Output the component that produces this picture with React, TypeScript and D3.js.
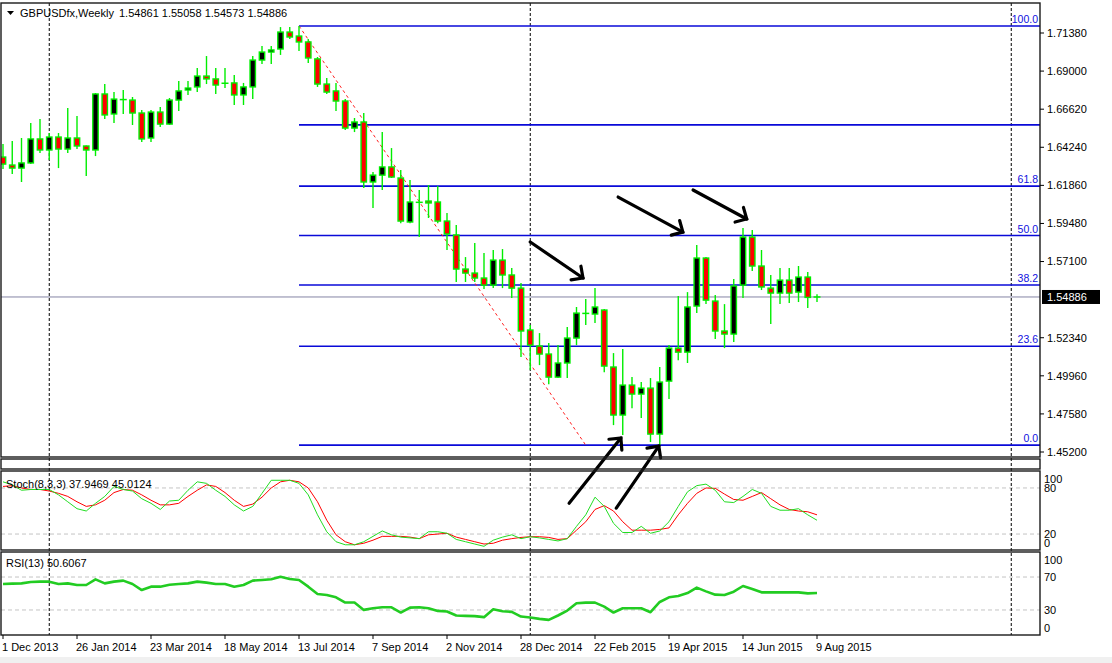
import React from "react";
import * as d3 from "d3";

// GBPUSDfx weekly, 1 Dec 2013 .. 9 Aug 2015
const START_DATE = new Date(2013, 11, 1);

const OPEN = [
  1.6363, 1.6313, 1.6294, 1.6326, 1.6476, 1.6407, 1.6488, 1.6413, 1.6482, 1.6432,
  1.6407, 1.6757, 1.6632, 1.6726, 1.6719, 1.6638, 1.6482, 1.6644, 1.6569, 1.6719,
  1.6782, 1.6801, 1.6869, 1.6851, 1.6826, 1.6826, 1.6751, 1.6801, 1.6969, 1.7019,
  1.7038, 1.7144, 1.7119, 1.7082, 1.6976, 1.6819, 1.6776, 1.6713, 1.6544, 1.6582,
  1.6207, 1.625, 1.6301, 1.6232, 1.5957, 1.6082, 1.6088, 1.6082, 1.5963, 1.5876,
  1.5663, 1.5638, 1.5607, 1.5563, 1.5719, 1.5626, 1.5544, 1.5282, 1.5182, 1.5132,
  1.4988, 1.5076, 1.5232, 1.5388, 1.5382, 1.5407, 1.5051, 1.4751, 1.4938, 1.4882,
  1.4919, 1.4632, 1.4963, 1.5169, 1.5144, 1.5432, 1.5732, 1.5463, 1.5276, 1.5257,
  1.5563, 1.5863, 1.5682, 1.5544, 1.5513, 1.5594, 1.5519, 1.5613, 1.54861,
];
const HIGH = [
  1.6444, 1.6463, 1.6482, 1.6576, 1.6601, 1.6513, 1.6513, 1.6669, 1.6619, 1.6435,
  1.6763, 1.6819, 1.6769, 1.6782, 1.6738, 1.6657, 1.6657, 1.6675, 1.6732, 1.6838,
  1.6838, 1.6919, 1.6994, 1.6919, 1.6919, 1.6876, 1.6826, 1.6994, 1.7057, 1.7057,
  1.7175, 1.7175, 1.7182, 1.7101, 1.6988, 1.6857, 1.6826, 1.6726, 1.6607, 1.6638,
  1.6269, 1.6519, 1.6419, 1.6282, 1.6219, 1.6157, 1.6188, 1.6182, 1.6013, 1.5938,
  1.5738, 1.5826, 1.5763, 1.5782, 1.5788, 1.5669, 1.5576, 1.5313, 1.5263, 1.5201,
  1.5188, 1.5301, 1.5426, 1.5476, 1.5544, 1.5413, 1.5138, 1.5163, 1.4988, 1.4957,
  1.4982, 1.5051, 1.5188, 1.5494, 1.5519, 1.5813, 1.5738, 1.5501, 1.5444, 1.5601,
  1.5919, 1.5907, 1.5782, 1.5626, 1.5669, 1.5669, 1.5682, 1.5644, 1.55058,
];
const LOW = [
  1.6288, 1.6257, 1.6207, 1.6319, 1.6388, 1.6344, 1.6294, 1.6388, 1.6413, 1.6244,
  1.6369, 1.6601, 1.6576, 1.6632, 1.6563, 1.6457, 1.6457, 1.655, 1.6563, 1.6651,
  1.6751, 1.6769, 1.6819, 1.6757, 1.6794, 1.6688, 1.6688, 1.6726, 1.6944, 1.6944,
  1.7001, 1.7101, 1.7026, 1.6951, 1.6801, 1.6757, 1.6651, 1.6532, 1.6519, 1.6169,
  1.6044, 1.6157, 1.6232, 1.595, 1.595, 1.5863, 1.5982, 1.595, 1.5782, 1.5582,
  1.5582, 1.5582, 1.5538, 1.5544, 1.5544, 1.5482, 1.5113, 1.5032, 1.5063, 1.4944,
  1.4982, 1.4982, 1.5188, 1.5313, 1.5326, 1.5019, 1.4688, 1.4626, 1.4794, 1.4732,
  1.4582, 1.4563, 1.4851, 1.5094, 1.5076, 1.5388, 1.5444, 1.5226, 1.5169, 1.5207,
  1.5482, 1.5651, 1.5532, 1.5319, 1.5444, 1.5451, 1.5457, 1.5419, 1.54573,
];
const CLOSE = [
  1.6319, 1.6294, 1.6326, 1.6476, 1.6407, 1.6488, 1.6413, 1.6482, 1.6432, 1.6407,
  1.6757, 1.6626, 1.6725, 1.6722, 1.6638, 1.6476, 1.6644, 1.6569, 1.6719, 1.6776,
  1.6794, 1.6869, 1.6851, 1.6813, 1.6824, 1.6751, 1.6801, 1.6969, 1.7019, 1.7032,
  1.7144, 1.7113, 1.7082, 1.6982, 1.6819, 1.6769, 1.6713, 1.6544, 1.6582, 1.6207,
  1.625, 1.6301, 1.6238, 1.5963, 1.6082, 1.608, 1.6076, 1.5963, 1.5882, 1.5663,
  1.5638, 1.5607, 1.5563, 1.5719, 1.5626, 1.5544, 1.5276, 1.5188, 1.5132, 1.4988,
  1.5076, 1.5232, 1.5388, 1.5386, 1.5426, 1.5057, 1.4751, 1.4938, 1.4882, 1.4919,
  1.4632, 1.4957, 1.5169, 1.5144, 1.5426, 1.5732, 1.5469, 1.5276, 1.5257, 1.5557,
  1.5863, 1.5682, 1.5551, 1.5513, 1.5594, 1.5513, 1.5613, 1.5486, 1.54886,
];

const STOCH_K = [
  88, 84, 77, 78, 78, 78, 71, 62, 53, 50, 60, 69, 82, 78, 76, 66, 60, 52, 63, 64,
  77, 88, 86, 77, 69, 58, 50, 56, 73, 90, 90, 90, 86, 71, 45, 23, 10, 6, 6, 10,
  17, 24, 19, 16, 15, 14, 23, 23, 21, 13, 10, 7, 4, 12, 16, 19, 14, 16.5, 15, 13,
  11, 14, 30, 45, 68, 56, 34, 22, 22, 30, 21, 24, 36, 56, 75, 83, 85, 77, 62, 61,
  69, 78, 73, 56, 51, 51, 53, 45, 37.9469,
];
const STOCH_D = [
  82, 83, 80, 78, 78, 76, 73, 69, 62, 56, 58, 64, 74, 78, 77, 71, 64, 58, 58, 60,
  69, 77, 84, 82, 74, 64, 56, 59, 68, 80, 88, 90, 88, 80, 62, 38, 19, 10, 6, 8,
  12, 17, 17, 17, 16, 14, 19, 20, 21, 16, 13, 10, 7, 8, 12, 14, 15.6, 16.5, 16.5, 15.6,
  13, 14, 25, 36, 52, 57, 50, 36, 25, 25, 25, 26, 28, 45, 60, 73, 80, 79.5, 72, 65,
  64, 69, 74, 66, 58, 52, 50, 49, 45.0124,
];
const RSI = [
  61.5, 62, 62.3, 64, 64.4, 64.4, 61.5, 62.3, 60.3, 60.3, 67.2, 62.3, 64.4, 65.6, 61.5,
  54.2, 58.3, 58.3, 60.7, 61.5, 62.3, 64.4, 63.2, 61.5, 61.5, 58.3, 60.3, 65.6, 66.4,
  67.2, 70.4, 67.6, 66.4, 58.3, 49.4, 48.2, 45.4, 39, 39, 30.1, 32.1, 33.3, 33.3, 26.9,
  32.9, 33.3, 32.1, 28.9, 28.1, 23.3, 22.9, 22.5, 21.3, 30.9, 28.5, 27.7, 22, 20.8, 19.2,
  18, 23.3, 29.3, 38.1, 38.9, 38.9, 34.1, 26.9, 32.1, 32.1, 32.1, 27.3, 39.7, 45.4, 47,
  50.6, 57.1, 52.6, 48.6, 48.2, 52.2, 59.1, 55.5, 51.4, 51.4, 51.4, 51.4, 51.4, 50.2,
  50.6067,
];

const DATE_LABELS = [
  "1 Dec 2013", "26 Jan 2014", "23 Mar 2014", "18 May 2014", "13 Jul 2014", "7 Sep 2014",
  "2 Nov 2014", "28 Dec 2014", "22 Feb 2015", "19 Apr 2015", "14 Jun 2015", "9 Aug 2015",
];
const PRICE_TICKS = [
  1.452, 1.4758, 1.4996, 1.5234, 1.5472, 1.571, 1.5948, 1.6186, 1.6424, 1.6662, 1.69, 1.7138,
];
const STOCH_LEVELS = [20, 80];
const STOCH_TICKS = [0, 20, 80, 100];
const RSI_LEVELS = [30, 70];
const RSI_TICKS = [0, 30, 70, 100];

// fibonacci retracement, anchored high -> low
const FIB_ANCHORS = [
  { week: 32, price: 1.7182 },
  { week: 63, price: 1.4563 },
];
const FIB_LEVELS = [0, 23.6, 38.2, 50, 61.8, 76.4, 100];
const FIB_LABELS = ["0.0", "23.6", "38.2", "50.0", "61.8", "", "100.0"];

// hand-drawn arrows (week index, price)
const ARROWS = [
  { from: [57.0, 1.5832], to: [62.7, 1.5607] },
  { from: [66.5, 1.6113], to: [73.5, 1.5894] },
  { from: [74.6, 1.6157], to: [80.4, 1.5976] },
  { from: [61.2, 1.42], to: [66.8, 1.4607] },
  { from: [66.3, 1.4169], to: [70.9, 1.4557] },
];

const W = 1112;
const H = 663;
const LEFT = 1;
const RIGHT = 1040;
const MAIN = { top: 3, bottom: 457 };
const EMPTY = { top: 459, bottom: 469 };
const STOCH = { top: 471, bottom: 550 };
const RSIP = { top: 552, bottom: 635 };
const FONT = "'Liberation Sans', Arial, sans-serif";
const LIME = "#00ee00";
const FIB_BLUE = "#0a0ad8";

export default function App() {
  const n = CLOSE.length;
  const x = d3.scaleLinear().domain([0, n - 1]).range([3, 817]);
  const y = d3.scaleLinear().domain([1.452, 1.7138]).range([452, 33]);
  const yS = d3.scaleLinear().domain([0, 100]).range([549.4, 472.6]);
  const yR = d3.scaleLinear().domain([0, 100]).range([634.7, 552.3]);

  const weeks = d3.range(0, 120).map((i) => d3.timeWeek.offset(START_DATE, i));
  const yearStarts = weeks
    .map((d, i) => (i > 0 && d.getFullYear() !== weeks[i - 1].getFullYear() ? i : -1))
    .filter((i) => i > 0);

  const stochLine = (vals: number[]) =>
    d3.line<number>().x((_, i) => x(i)).y((v) => yS(v))(vals)!;
  const rsiLine = d3.line<number>().x((_, i) => x(i)).y((v) => yR(v))(RSI)!;

  const [fa, fb] = FIB_ANCHORS;
  const fibPrice = (lvl: number) => fb.price + ((fa.price - fb.price) * lvl) / 100;
  const last = CLOSE[n - 1];

  // price labels hidden behind the current-price tag
  const visibleTicks = PRICE_TICKS.filter((t) => Math.abs(y(t) - y(last)) > 10);

  const clampLabel = (v: number, top: number, bottom: number) =>
    Math.max(top + 8, Math.min(bottom - 7, v));

  const arrowHead = (x1: number, y1: number, x2: number, y2: number) => {
    const back = Math.atan2(y1 - y2, x1 - x2);
    const len = 12;
    return [-0.75, 0.8].map((d) => [x2 + len * Math.cos(back + d), y2 + len * Math.sin(back + d)]);
  };

  return (
    <svg
      width={W}
      height={H}
      style={{ position: "fixed", left: 0, top: 0, display: "block" }}
      fontFamily={FONT}
    >
      <defs>
        <clipPath id="clip-main">
          <rect x={LEFT} y={MAIN.top} width={RIGHT - LEFT} height={MAIN.bottom - MAIN.top} />
        </clipPath>
        <clipPath id="clip-stoch">
          <rect x={LEFT} y={STOCH.top} width={RIGHT - LEFT} height={STOCH.bottom - STOCH.top} />
        </clipPath>
        <clipPath id="clip-rsi">
          <rect x={LEFT} y={RSIP.top} width={RIGHT - LEFT} height={RSIP.bottom - RSIP.top} />
        </clipPath>
      </defs>
      <rect width={W} height={H} fill="#fff" />
      <rect y={657} width={W} height={6} fill="#f0f0f0" />

      {/* indicator level lines */}
      {STOCH_LEVELS.map((l) => (
        <line key={"sl" + l} x1={LEFT} x2={RIGHT} y1={yS(l)} y2={yS(l)} stroke="#c4c4c4" strokeDasharray="4,3" />
      ))}
      {RSI_LEVELS.map((l) => (
        <line key={"rl" + l} x1={LEFT} x2={RIGHT} y1={yR(l)} y2={yR(l)} stroke="#c4c4c4" strokeDasharray="4,3" />
      ))}

      {/* year separators */}
      {yearStarts.map((i) => (
        <line key={"ys" + i} x1={x(i)} x2={x(i)} y1={MAIN.top} y2={RSIP.bottom} stroke="#000" strokeDasharray="3,2" />
      ))}

      {/* main panel */}
      <g clipPath="url(#clip-main)">
        {FIB_LEVELS.map((lvl, k) => (
          <g key={"fib" + lvl}>
            <line
              x1={x(fa.week)}
              x2={RIGHT}
              y1={y(fibPrice(lvl))}
              y2={y(fibPrice(lvl))}
              stroke={FIB_BLUE}
              strokeWidth={1.6}
            />
            <text x={RIGHT - 2} y={y(fibPrice(lvl)) - 3} textAnchor="end" fontSize={10.5} fill="#1010e0">
              {FIB_LABELS[k]}
            </text>
          </g>
        ))}
        <line x1={LEFT} x2={RIGHT} y1={y(last)} y2={y(last)} stroke="#8484a4" strokeWidth={1} />
        <line
          x1={x(fa.week)}
          y1={y(fa.price)}
          x2={x(fb.week)}
          y2={y(fb.price)}
          stroke="#ff2020"
          strokeWidth={1}
          strokeDasharray="3,3"
        />
        {CLOSE.map((c, i) => {
          const o = OPEN[i];
          const cx = x(i);
          const top = y(Math.max(o, c));
          const bot = y(Math.min(o, c));
          const bull = c >= o;
          return (
            <g key={"c" + i}>
              <line x1={cx} x2={cx} y1={y(HIGH[i])} y2={y(LOW[i])} stroke={LIME} strokeWidth={1.4} />
              {bot - top < 1.5 ? (
                <line x1={cx - 3.5} x2={cx + 3.5} y1={y(c)} y2={y(c)} stroke={LIME} strokeWidth={1.5} />
              ) : (
                <rect
                  x={cx - 2.7}
                  y={top}
                  width={5.4}
                  height={bot - top}
                  fill={bull ? "#000" : "#ff0000"}
                  stroke={LIME}
                  strokeWidth={1.4}
                />
              )}
            </g>
          );
        })}
      </g>

      {/* stochastic */}
      <g clipPath="url(#clip-stoch)">
        <path d={stochLine(STOCH_D)} fill="none" stroke="#ff0000" strokeWidth={1} />
        <path d={stochLine(STOCH_K)} fill="none" stroke="#22dd22" strokeWidth={1} />
      </g>

      {/* rsi */}
      <g clipPath="url(#clip-rsi)">
        <path d={rsiLine} fill="none" stroke="#22cc22" strokeWidth={2.6} strokeLinejoin="round" />
      </g>

      {/* arrows */}
      {ARROWS.map((a, k) => {
        const x1 = x(a.from[0]);
        const y1 = y(a.from[1]);
        const x2 = x(a.to[0]);
        const y2 = y(a.to[1]);
        const head = arrowHead(x1, y1, x2, y2);
        return (
          <g key={"ar" + k} stroke="#000" strokeWidth={3.2} strokeLinecap="round" fill="none">
            <line x1={x1} y1={y1} x2={x2} y2={y2} />
            <polyline points={`${head[0][0]},${head[0][1]} ${x2},${y2} ${head[1][0]},${head[1][1]}`} />
          </g>
        );
      })}

      {/* panel frames */}
      {[MAIN, EMPTY, STOCH, RSIP].map((p, k) => (
        <rect
          key={"fr" + k}
          x={LEFT}
          y={p.top}
          width={RIGHT - LEFT}
          height={p.bottom - p.top}
          fill="none"
          stroke="#1a1a1a"
          strokeWidth={1.4}
        />
      ))}

      {/* header and indicator captions */}
      <path d="M7,11 L14,11 L10.5,15 Z" fill="#000" />
      <text y={17} fontSize={11} fill="#000">
        <tspan x={20}>GBPUSDfx,Weekly</tspan>
        <tspan x={119}>
          {[OPEN[n - 1], HIGH[n - 1], LOW[n - 1], CLOSE[n - 1]].map((v) => v.toFixed(5)).join(" ")}
        </tspan>
      </text>
      <text x={6} y={488} fontSize={11} fill="#000">
        {`Stoch(8,3,3) ${STOCH_K[n - 1].toFixed(4)} ${STOCH_D[n - 1].toFixed(4)}`}
      </text>
      <text x={6} y={567} fontSize={11} fill="#000">
        {`RSI(13) ${RSI[n - 1].toFixed(4)}`}
      </text>

      {/* price axis */}
      {visibleTicks.map((t) => (
        <g key={"pt" + t}>
          <line x1={RIGHT} x2={RIGHT + 4} y1={y(t)} y2={y(t)} stroke="#000" />
          <text x={RIGHT + 7} y={y(t)} dy="0.35em" fontSize={11} fill="#000">
            {t.toFixed(5)}
          </text>
        </g>
      ))}
      <rect x={RIGHT + 2} y={y(last) - 7} width={58} height={14} fill="#000" />
      <text x={RIGHT + 7} y={y(last)} dy="0.35em" fontSize={11} fill="#fff">
        {last.toFixed(5)}
      </text>

      {STOCH_TICKS.map((t) => (
        <text
          key={"st" + t}
          x={RIGHT + 4}
          y={clampLabel(yS(t), STOCH.top, STOCH.bottom)}
          dy="0.35em"
          fontSize={11}
          fill="#000"
        >
          {t}
        </text>
      ))}
      {RSI_TICKS.map((t) => (
        <text
          key={"rt" + t}
          x={RIGHT + 4}
          y={clampLabel(yR(t), RSIP.top, RSIP.bottom)}
          dy="0.35em"
          fontSize={11}
          fill="#000"
        >
          {t}
        </text>
      ))}

      {/* date axis */}
      {DATE_LABELS.map((lab, k) => (
        <g key={"dt" + k}>
          <line x1={x(k * 8)} x2={x(k * 8)} y1={RSIP.bottom} y2={RSIP.bottom + 4} stroke="#000" />
          <text x={x(k * 8) - 1} y={651} fontSize={11} fill="#000">
            {lab}
          </text>
        </g>
      ))}
    </svg>
  );
}
